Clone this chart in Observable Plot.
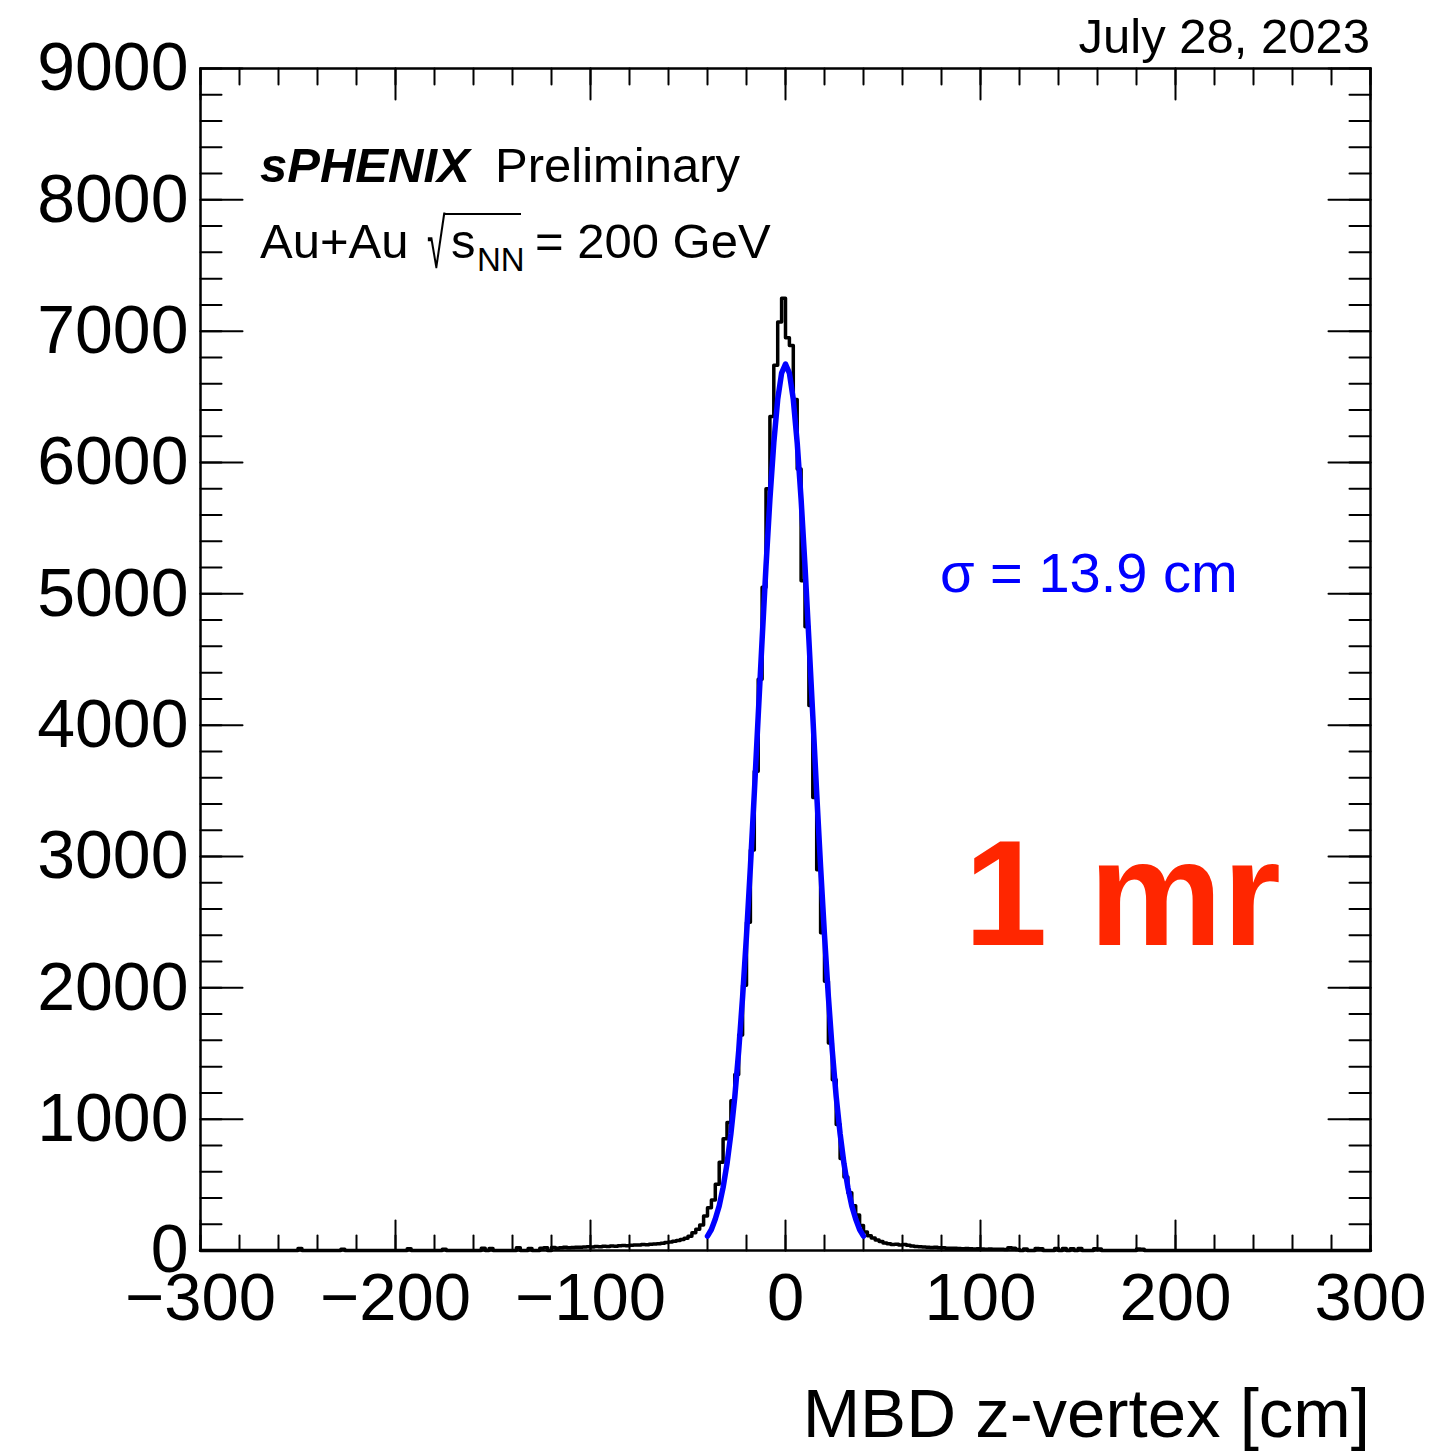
<!DOCTYPE html>
<html>
<head>
<meta charset="utf-8">
<script src="https://cdn.jsdelivr.net/npm/d3@7"></script>
<script src="https://cdn.jsdelivr.net/npm/@observablehq/plot@0.6"></script>
<style>
  html, body { margin: 0; padding: 0; background: #fff; }
  #chart svg { display: block; }
</style>
</head>
<body>
<div id="chart"></div>
<script>
// ---- Data ----
const binWidth = 2;          // cm per histogram bin
const histRange = [-300, 300];
const coreStart = -120;      // lower edge of first bin listed in coreCounts
// counts of bins [-120,-118], [-118,-116], ... , [118,120]
const coreCounts = [
  22, 18, 20, 24, 20, 22, 25, 24, 26, 28,
  27, 30, 29, 32, 31, 34, 33, 36, 38, 37,
  40, 42, 41, 45, 44, 48, 50, 52, 56, 60,
  64, 70, 76, 84, 94, 108, 135, 162, 195, 262,
  325, 385, 505, 672, 850, 975, 1140, 1340, 1640, 2020,
  2500, 3050, 3650, 4350, 5050, 5800, 6350, 6740, 7070, 7250,
  6950, 6890, 6480, 5950, 5100, 4750, 4150, 3450, 2900, 2420,
  2050, 1580, 1300, 960, 700, 560, 440, 340, 270, 190,
  140, 112, 95, 80, 68, 58, 52, 46, 48, 42,
  45, 40, 34, 30, 28, 26, 25, 22, 24, 20,
  20, 18, 17, 18, 15, 14, 15, 13, 12, 13,
  12, 10, 11, 10, 9, 10, 8, 20, 18, 8
];
// isolated small entries far in the tails (bin centres, counts)
const tailCenters = [-249, -227, -193, -175, -155, -151, -137, -131, -125, -123, 123, 129, 131, 139, 143, 147, 151, 159, 161, 181, 183];
const tailCounts  = [15, 10, 14, 10, 18, 16, 20, 15, 18, 20, 12, 16, 14, 15, 16, 14, 16, 14, 12, 12, 10];

// Gaussian fit curve as drawn (blue), sigma = 13.9 cm
const fitZ = [-40,-38,-36,-34,-32,-30,-28,-26,-24,-22,-20,-18,-16,-14,-12,-10,-8,-6,-4,-2,0,
              2,4,6,8,10,12,14,16,18,20,22,24,26,28,30,32,34,36,38,40];
const fitCounts = [110,160,240,340,480,660,890,1170,1520,1930,2400,2920,3480,4070,4650,5210,5720,6150,6480,6680,6750,
                   6680,6480,6150,5720,5210,4650,4070,3480,2920,2400,1930,1520,1170,890,660,480,340,240,160,110];

const xMajorTicks = [-300, -200, -100, 0, 100, 200, 300];
const xMinorTicks = d3.range(-300, 301, 20);
const yMajorTicks = [0, 1000, 2000, 3000, 4000, 5000, 6000, 7000, 8000, 9000];
const yMinorTicks = d3.range(0, 9001, 200);

const xTitle = "MBD z-vertex [cm]";
const dateText = "July 28, 2023";
const expText = "sPHENIX";
const prelimText = "Preliminary";
const sigmaText = "σ = 13.9 cm";
const crossingText = "1 mr";

// ---- Build tables ----
const lookup = new Map();
coreCounts.forEach((n, i) => lookup.set(coreStart + i * binWidth, n));
tailCenters.forEach((c, i) => lookup.set(c - binWidth / 2, tailCounts[i]));
const hist = d3.range(histRange[0], histRange[1], binWidth).map(z => ({z, n: lookup.get(z) ?? 0}));
hist.push({z: histRange[1], n: hist[hist.length - 1].n});
const fit = fitZ.map((z, i) => ({z, n: fitCounts[i]}));

const FONT = "'Liberation Sans', Arial, Helvetica, sans-serif";
const tickShape = { draw(context, l) { context.moveTo(0, 0); context.lineTo(0, -l); } };
const fmt = d => d < 0 ? "\u2212" + (-d) : String(d);

function ticks(data, side, len) {
  const common = {length: len, anchor: "start", shape: tickShape, stroke: "black", strokeWidth: 2};
  if (side === "bottom") return Plot.vector(data, {...common, x: d => d, y: () => 0, rotate: 0});
  if (side === "top") return Plot.vector(data, {...common, x: d => d, y: () => 9000, rotate: 180});
  if (side === "left") return Plot.vector(data, {...common, x: () => -300, y: d => d, rotate: 90});
  return Plot.vector(data, {...common, x: () => 300, y: d => d, rotate: 270});
}

const plot = Plot.plot({
  width: 1434,
  height: 1456,
  marginLeft: 200,
  marginRight: 64,
  marginTop: 68,
  marginBottom: 206,
  style: {fontFamily: FONT, background: "white", color: "black"},
  x: {domain: [-300, 300]},
  y: {domain: [0, 9000]},
  marks: [
    Plot.axisX(xMajorTicks, {anchor: "bottom", tickSize: 0, tickPadding: 22, fontSize: 67, label: null, tickFormat: fmt}),
    Plot.axisY(yMajorTicks, {anchor: "left", tickSize: 0, tickPadding: 12, fontSize: 68, label: null, tickFormat: fmt}),
    ticks(xMinorTicks, "bottom", 15),
    ticks(xMajorTicks, "bottom", 30),
    ticks(xMinorTicks, "top", 16),
    ticks(xMajorTicks, "top", 31),
    ticks(yMinorTicks, "left", 21),
    ticks(yMajorTicks, "left", 42),
    ticks(yMinorTicks, "right", 21),
    ticks(yMajorTicks, "right", 42),
    Plot.line(hist, {x: "z", y: "n", curve: "step-after", stroke: "black", strokeWidth: 3.5}),
    Plot.line(fit, {x: "z", y: "n", stroke: "#0000ff", strokeWidth: 5.5}),
    Plot.frame({stroke: "black", strokeWidth: 2.5})
  ]
});

// ---- Annotations ----
const svg = d3.select(plot);
const g = svg.append("g").attr("font-family", FONT).attr("fill", "black").attr("text-anchor", "start");
const put = (x, y, size, txt) => g.append("text").attr("x", x).attr("y", y).attr("font-size", size).attr("text-anchor", "start").text(txt);
put(1370, 1437, 69, xTitle).attr("text-anchor", "end");
put(1370, 53, 49, dateText).attr("text-anchor", "end");
put(260, 182, 49, expText).attr("font-weight", "bold").attr("font-style", "italic");
put(495, 182, 49, prelimText);
put(260, 258, 49, "Au+Au");
g.append("text").attr("font-size", 56).attr("text-anchor", "start")
  .attr("transform", "translate(427,268) scale(0.6,1.25)").text("√");
g.append("line").attr("x1", 444).attr("x2", 521).attr("y1", 214).attr("y2", 214).attr("stroke", "black").attr("stroke-width", 2);
put(451, 258, 49, "s");
put(477, 271, 33, "NN");
put(535, 258, 49, "= 200 GeV");
put(940, 592, 56, sigmaText).attr("fill", "#0000ff");
put(964, 945, 150, crossingText).attr("font-weight", "bold").attr("fill", "#ff2600");

document.getElementById("chart").appendChild(plot);
</script>
</body>
</html>
